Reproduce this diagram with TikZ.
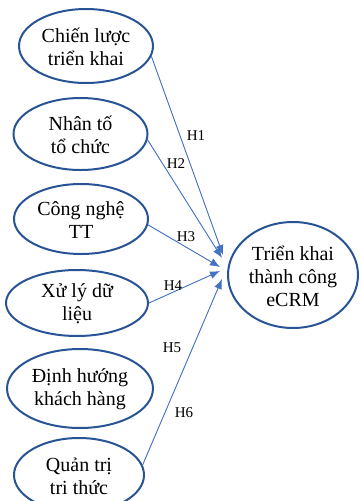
\documentclass[tikz,border=0pt]{standalone}
\usepackage{fontspec}
\setmainfont{Liberation Serif}
\usetikzlibrary{shapes.geometric,arrows.meta}
\definecolor{ellblue}{RGB}{40,84,150}
\definecolor{conblue}{RGB}{68,114,196}
\tikzset{
  eb/.style={ellipse, draw=ellblue, line width=2pt, inner sep=0pt},
  txt/.style={align=center, inner sep=0pt, font=\fontsize{20pt}{23pt}\selectfont},
  conn/.style={draw=conblue, line width=0.9pt, -{Latex[length=10pt,width=8pt]}, fill=conblue},
  hlab/.style={font=\fontsize{15pt}{17pt}\selectfont, inner sep=0pt}
}
\begin{document}
\begin{tikzpicture}[x=1pt,y=-1pt]
\useasboundingbox (0,0) rectangle (360,501);
% source ellipses
\node[eb, minimum width=134pt, minimum height=74pt] (s1) at (86,46) {};
\node[txt] (s1t) at (86,47) {Chiến lược\\triển khai};
\node[eb, minimum width=134pt, minimum height=72pt] (s2) at (80.5,134) {};
\node[txt] (s2t) at (80.5,135) {Nhân tố\\tổ chức};
\node[eb, minimum width=134pt, minimum height=70pt] (s3) at (81,219) {};
\node[txt] (s3t) at (81,220) {Công nghệ\\TT};
\node[eb, minimum width=142pt, minimum height=66pt] (s4) at (77,303) {};
\node[txt] (s4t) at (77,304) {Xử lý dữ\\liệu};
\node[eb, minimum width=146pt, minimum height=79pt] (s5) at (80,388.5) {};
\node[txt] (s5t) at (80,389.5) {Định hướng\\khách hàng};
\node[eb, minimum width=130pt, minimum height=74pt] (s6) at (79,475) {};
\node[txt] (s6t) at (79,476) {Quản trị\\tri thức};
% target
\node[eb, minimum width=130pt, minimum height=106pt] (t) at (293,275) {};
\node[txt] (tt) at (293,276) {Triển khai\\thành công\\eCRM};
% connectors
\draw[conn] (s1.-9) -- ([shift={(-4,-20)}]t.west);
\draw[conn] (s2.-5) -- ([shift={(-5,-17)}]t.west);
\draw[conn] (s3.-5) -- ([shift={(-7,-8)}]t.west);
\draw[conn] (s4.east) -- ([shift={(-7,-4)}]t.west);
\draw[conn] (s6.9) -- ([shift={(-5,4)}]t.west);
% labels
\node[hlab] (h1) at (196,136) {H1};
\node[hlab] (h2) at (176,164) {H2};
\node[hlab] (h3) at (186,237) {H3};
\node[hlab] (h4) at (173,286) {H4};
\node[hlab] (h5) at (172,348) {H5};
\node[hlab] (h6) at (184,413) {H6};
\end{tikzpicture}
\end{document}
